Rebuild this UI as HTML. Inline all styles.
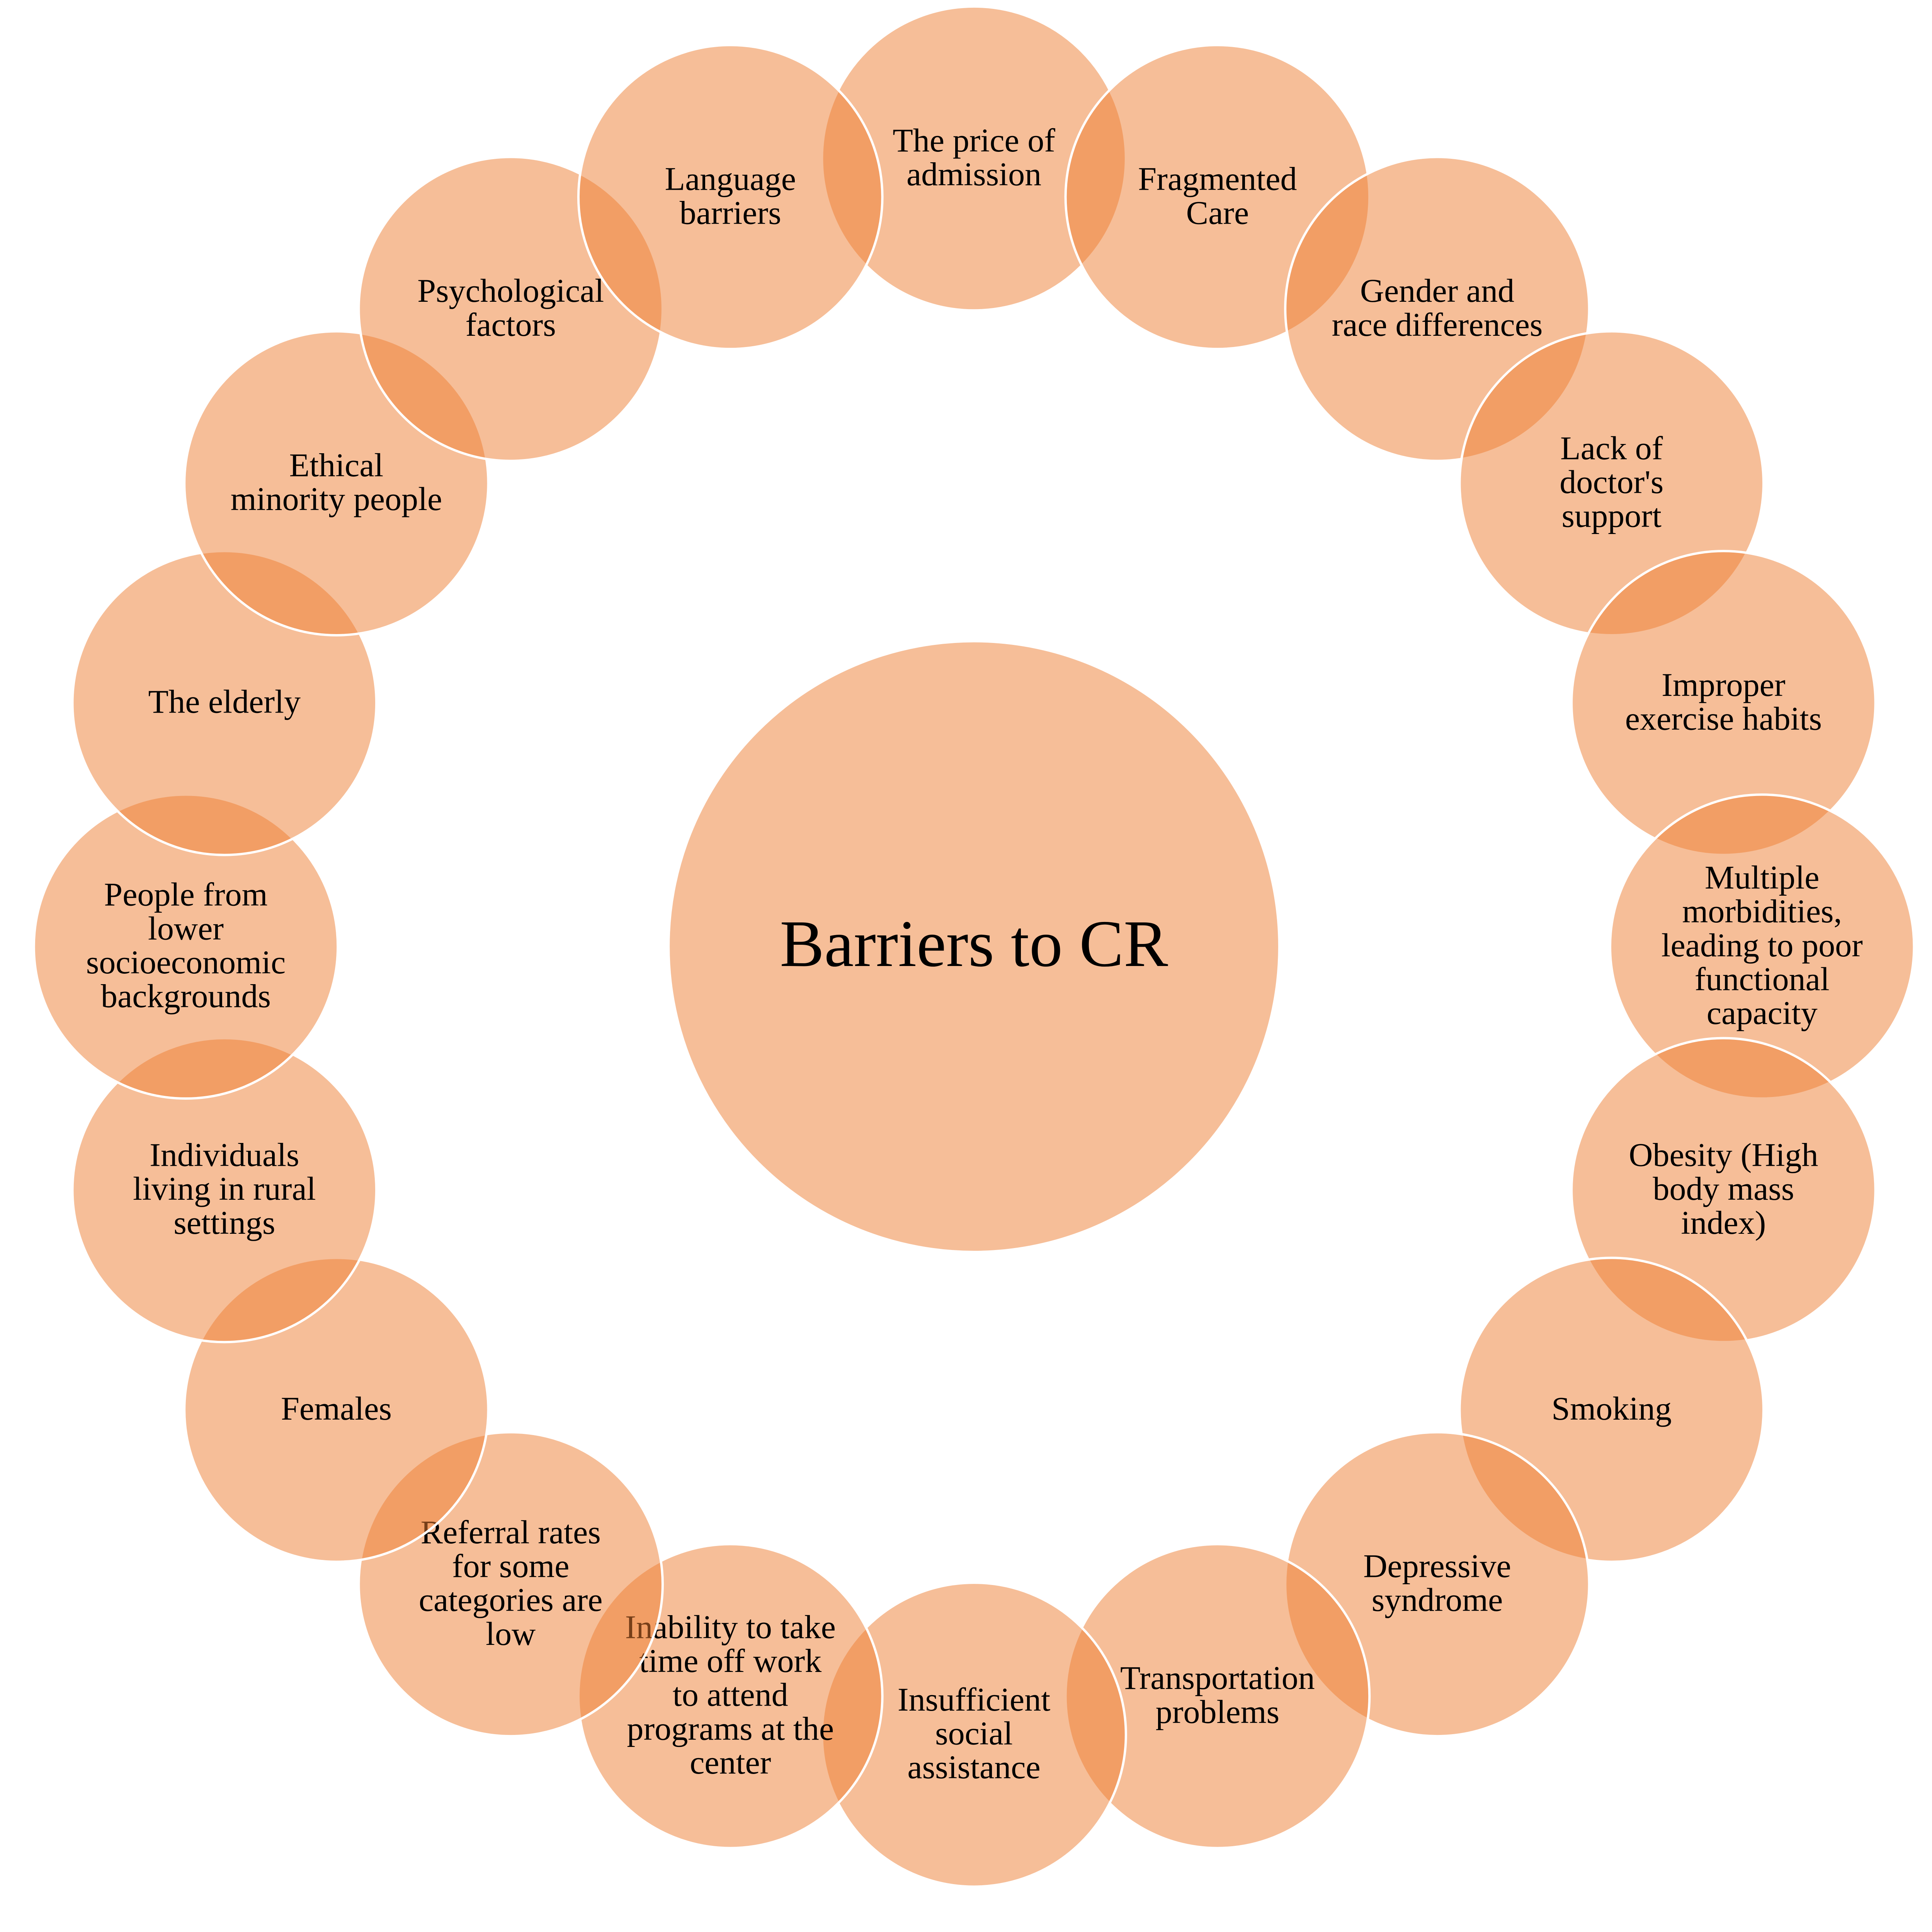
<!DOCTYPE html>
<html>
<head>
<meta charset="utf-8">
<style>
  html, body { margin: 0; padding: 0; background: #ffffff; overflow: hidden; }
  svg { display: block; width: 100vw; height: calc(100vw * 6462 / 6560); }
  text { font-family: "Liberation Serif", "Times New Roman", serif; fill: #000000; }
</style>
</head>
<body>
<svg xmlns="http://www.w3.org/2000/svg" viewBox="0 0 6560 6462" preserveAspectRatio="xMidYMin meet">
  <rect x="0" y="0" width="6560" height="6462" fill="#ffffff"/>

  <!-- central circle -->
  <circle cx="3307" cy="3214" r="1037" fill="rgba(237,125,49,0.5)" stroke="#ffffff" stroke-width="8"/>
  <text x="3307" y="3280" font-size="226" text-anchor="middle">Barriers to CR</text>

  <g font-size="113" text-anchor="middle">
    <!-- 0 -->
    <g>
      <circle cx="3307" cy="538" r="516" fill="rgba(237,125,49,0.5)" stroke="#ffffff" stroke-width="8"/>
      <text x="3307" y="514">The price of</text>
      <text x="3307" y="629">admission</text>
    </g>
    <!-- 1 -->
    <g>
      <circle cx="4134" cy="669" r="516" fill="rgba(237,125,49,0.5)" stroke="#ffffff" stroke-width="8"/>
      <text x="4134" y="645">Fragmented</text>
      <text x="4134" y="760">Care</text>
    </g>
    <!-- 2 -->
    <g>
      <circle cx="4880" cy="1049" r="516" fill="rgba(237,125,49,0.5)" stroke="#ffffff" stroke-width="8"/>
      <text x="4880" y="1025">Gender and</text>
      <text x="4880" y="1140">race differences</text>
    </g>
    <!-- 3 -->
    <g>
      <circle cx="5472" cy="1641" r="516" fill="rgba(237,125,49,0.5)" stroke="#ffffff" stroke-width="8"/>
      <text x="5472" y="1559">Lack of</text>
      <text x="5472" y="1674">doctor's</text>
      <text x="5472" y="1789">support</text>
    </g>
    <!-- 4 -->
    <g>
      <circle cx="5852" cy="2387" r="516" fill="rgba(237,125,49,0.5)" stroke="#ffffff" stroke-width="8"/>
      <text x="5852" y="2363">Improper</text>
      <text x="5852" y="2478">exercise habits</text>
    </g>
    <!-- 5 -->
    <g>
      <circle cx="5983" cy="3214" r="516" fill="rgba(237,125,49,0.5)" stroke="#ffffff" stroke-width="8"/>
      <text x="5983" y="3017">Multiple</text>
      <text x="5983" y="3132">morbidities,</text>
      <text x="5983" y="3247">leading to poor</text>
      <text x="5983" y="3362">functional</text>
      <text x="5983" y="3477">capacity</text>
    </g>
    <!-- 6 -->
    <g>
      <circle cx="5852" cy="4041" r="516" fill="rgba(237,125,49,0.5)" stroke="#ffffff" stroke-width="8"/>
      <text x="5852" y="3959">Obesity (High</text>
      <text x="5852" y="4074">body mass</text>
      <text x="5852" y="4189">index)</text>
    </g>
    <!-- 7 -->
    <g>
      <circle cx="5472" cy="4787" r="516" fill="rgba(237,125,49,0.5)" stroke="#ffffff" stroke-width="8"/>
      <text x="5472" y="4820">Smoking</text>
    </g>
    <!-- 8 -->
    <g>
      <circle cx="4880" cy="5379" r="516" fill="rgba(237,125,49,0.5)" stroke="#ffffff" stroke-width="8"/>
      <text x="4880" y="5355">Depressive</text>
      <text x="4880" y="5470">syndrome</text>
    </g>
    <!-- 9 -->
    <g>
      <circle cx="4134" cy="5759" r="516" fill="rgba(237,125,49,0.5)" stroke="#ffffff" stroke-width="8"/>
      <text x="4134" y="5735">Transportation</text>
      <text x="4134" y="5850">problems</text>
    </g>
    <!-- 10 -->
    <g>
      <circle cx="3307" cy="5890" r="516" fill="rgba(237,125,49,0.5)" stroke="#ffffff" stroke-width="8"/>
      <text x="3307" y="5808">Insufficient</text>
      <text x="3307" y="5923">social</text>
      <text x="3307" y="6038">assistance</text>
    </g>
    <!-- 11 -->
    <g>
      <circle cx="2480" cy="5759" r="516" fill="rgba(237,125,49,0.5)" stroke="#ffffff" stroke-width="8"/>
      <text x="2480" y="5562">Inability to take</text>
      <text x="2480" y="5677">time off work</text>
      <text x="2480" y="5792">to attend</text>
      <text x="2480" y="5907">programs at the</text>
      <text x="2480" y="6022">center</text>
    </g>
    <!-- 12 -->
    <g>
      <circle cx="1734" cy="5379" r="516" fill="rgba(237,125,49,0.5)" stroke="#ffffff" stroke-width="8"/>
      <text x="1734" y="5240">Referral rates</text>
      <text x="1734" y="5355">for some</text>
      <text x="1734" y="5470">categories are</text>
      <text x="1734" y="5585">low</text>
    </g>
    <!-- 13 -->
    <g>
      <circle cx="1142" cy="4787" r="516" fill="rgba(237,125,49,0.5)" stroke="#ffffff" stroke-width="8"/>
      <text x="1142" y="4820">Females</text>
    </g>
    <!-- 14 -->
    <g>
      <circle cx="762" cy="4041" r="516" fill="rgba(237,125,49,0.5)" stroke="#ffffff" stroke-width="8"/>
      <text x="762" y="3959">Individuals</text>
      <text x="762" y="4074">living in rural</text>
      <text x="762" y="4189">settings</text>
    </g>
    <!-- 15 -->
    <g>
      <circle cx="631" cy="3214" r="516" fill="rgba(237,125,49,0.5)" stroke="#ffffff" stroke-width="8"/>
      <text x="631" y="3075">People from</text>
      <text x="631" y="3190">lower</text>
      <text x="631" y="3305">socioeconomic</text>
      <text x="631" y="3420">backgrounds</text>
    </g>
    <!-- 16 -->
    <g>
      <circle cx="762" cy="2387" r="516" fill="rgba(237,125,49,0.5)" stroke="#ffffff" stroke-width="8"/>
      <text x="762" y="2420">The elderly</text>
    </g>
    <!-- 17 -->
    <g>
      <circle cx="1142" cy="1641" r="516" fill="rgba(237,125,49,0.5)" stroke="#ffffff" stroke-width="8"/>
      <text x="1142" y="1617">Ethical</text>
      <text x="1142" y="1732">minority people</text>
    </g>
    <!-- 18 -->
    <g>
      <circle cx="1734" cy="1049" r="516" fill="rgba(237,125,49,0.5)" stroke="#ffffff" stroke-width="8"/>
      <text x="1734" y="1025">Psychological</text>
      <text x="1734" y="1140">factors</text>
    </g>
    <!-- 19 -->
    <g>
      <circle cx="2480" cy="669" r="516" fill="rgba(237,125,49,0.5)" stroke="#ffffff" stroke-width="8"/>
      <text x="2480" y="645">Language</text>
      <text x="2480" y="760">barriers</text>
    </g>
  </g>
</svg>
</body>
</html>
